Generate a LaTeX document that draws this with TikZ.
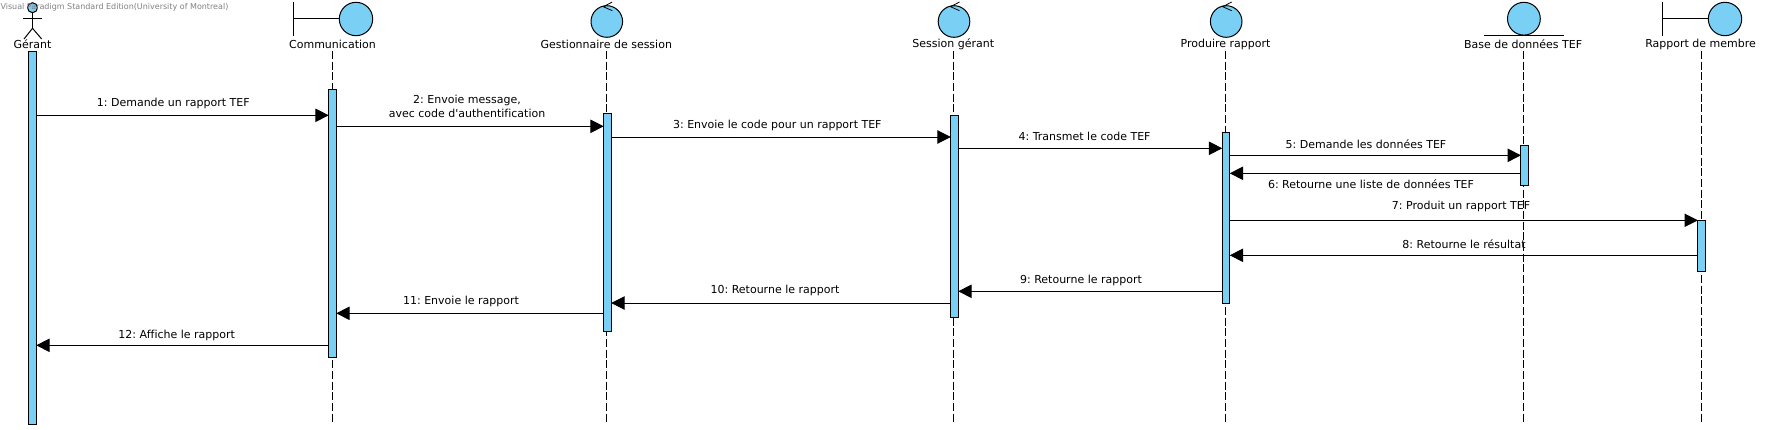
\documentclass[tikz,border=0pt]{standalone}
\usepackage{fontspec}
\usepackage{xcolor}
\usetikzlibrary{arrows.meta}
\newfontfamily\vpfont[Ligatures=NoCommon]{DejaVu Sans}
\definecolor{vpblue}{RGB}{122,207,245}

\begin{document}
\begin{tikzpicture}[x=0.75pt, y=-0.75pt, >={Triangle[length=10pt,width=10pt]},
  line width=0.75pt,
  icon/.style={draw=black, fill=vpblue},
  actbar/.style={draw=black, fill=vpblue, anchor=north, minimum width=5.6pt, inner sep=0pt, outer sep=0pt},
  lifeline/.style={dashed, dash pattern=on 6pt off 2pt},
  msg/.style={->},
  lifename/.style={font=\vpfont\frenchspacing\fontsize{8.25}{10}\selectfont},
  msgtext/.style={font=\vpfont\frenchspacing\fontsize{8.25}{11}\selectfont, align=center, inner sep=0pt}]
  \useasboundingbox (0,0) rectangle (1779,429);
  \draw[icon] (32.5,7.7) circle[radius=5];
  \draw (32.5,12.7) -- (32.5,28.3);
  \draw (23.3,18.3) -- (41.7,18.3);
  \draw (24,39) -- (32.5,28.3) -- (41.7,39);
  \draw (293.7,2.3) -- (293.7,35.7);
  \draw (293.7,18.7) -- (339.3,18.7);
  \draw[icon] (356,19) circle[radius=16.7];
  \draw[icon] (606.8,21.5) circle[radius=15.8];
  \draw[line width=0.6pt] (612.3,2) -- (603.3,6.7) -- (612.3,10.7);
  \draw[icon] (954,21.5) circle[radius=15.8];
  \draw[line width=0.6pt] (959.5,2) -- (950.5,6.7) -- (959.5,10.7);
  \draw[icon] (1226.2,21.5) circle[radius=15.8];
  \draw[line width=0.6pt] (1231.7,2) -- (1222.7,6.7) -- (1231.7,10.7);
  \draw[icon] (1523.9,18.7) circle[radius=16.4];
  \draw (1484,35) -- (1563.6,35);
  \draw (1662.6,2.3) -- (1662.6,35.7);
  \draw (1662.6,18.7) -- (1708.5,18.7);
  \draw[icon] (1725,19) circle[radius=16.7];
  \node[lifename] (gerantlbl) at (32.5,44) {Gérant};
  \node[lifename] (commlbl) at (332.5,44) {Communication};
  \node[lifename] (gestlbl) at (606.3,44) {Gestionnaire de session};
  \node[lifename] (sesslbl) at (953.3,44) {Session gérant};
  \node[lifename] (prodlbl) at (1225.5,44) {Produire rapport};
  \node[lifename] (baselbl) at (1523.1,44) {Base de données TEF};
  \node[lifename] (memblbl) at (1700.6,44) {Rapport de membre};
  \coordinate (commend) at (332.5,422);
  \coordinate (gestend) at (606.3,422);
  \coordinate (sessend) at (953.3,422);
  \coordinate (prodend) at (1225.5,422);
  \coordinate (baseend) at (1523.1,422);
  \coordinate (membend) at (1701.6,422);
  \draw[lifeline] (commlbl |- 0,51) -- (commend);
  \draw[lifeline] (gestlbl |- 0,51) -- (gestend);
  \draw[lifeline] (sesslbl |- 0,51) -- (sessend);
  \draw[lifeline] (prodlbl |- 0,51) -- (prodend);
  \draw[lifeline] (baselbl |- 0,51) -- (baseend);
  \draw[lifeline] (membend |- 0,51) -- (membend);
  \node[actbar, minimum height=279.75pt] (gerantbar) at (32.5,51) {};
  \node[actbar, minimum height=201.5pt] (commbar) at (332.5,89) {};
  \node[actbar, minimum height=163.5pt] (gestbar) at (607.5,113) {};
  \node[actbar, minimum height=151.65pt] (sessbar) at (954.5,115.3) {};
  \node[actbar, minimum height=128.25pt] (prodbar) at (1226,132.3) {};
  \node[actbar, minimum height=30pt] (basebar) at (1524.7,145.3) {};
  \node[actbar, minimum height=38.25pt] (membbar) at (1701.6,220.3) {};
  \draw[msg] (gerantbar.east |- 0,115.3) -- (commbar.west |- 0,115.3);
  \draw[msg] (commbar.east |- 0,126.3) -- (gestbar.west |- 0,126.3);
  \draw[msg] (gestbar.east |- 0,137) -- (sessbar.west |- 0,137);
  \draw[msg] (sessbar.east |- 0,148.3) -- (prodbar.west |- 0,148.3);
  \draw[msg] (prodbar.east |- 0,155.3) -- (basebar.west |- 0,155.3);
  \draw[msg] (basebar.west |- 0,173.3) -- (prodbar.east |- 0,173.3);
  \draw[msg] (prodbar.east |- 0,220.3) -- (membbar.west |- 0,220.3);
  \draw[msg] (membbar.west |- 0,255.3) -- (prodbar.east |- 0,255.3);
  \draw[msg] (prodbar.west |- 0,291.3) -- (sessbar.east |- 0,291.3);
  \draw[msg] (sessbar.west |- 0,303) -- (gestbar.east |- 0,303);
  \draw[msg] (gestbar.west |- 0,313.3) -- (commbar.east |- 0,313.3);
  \draw[msg] (commbar.west |- 0,345.3) -- (gerantbar.east |- 0,345.3);
  \node[msgtext] (msgone) at (173.3,103) {1: Demande un rapport TEF};
  \node[msgtext] (msgtwo) at (467,106.5) {2: Envoie message,\\avec code d'authentification};
  \node[msgtext] (msgthree) at (777.3,125.5) {3: Envoie le code pour un rapport TEF};
  \node[msgtext] (msgfour) at (1084.6,136.3) {4: Transmet le code TEF};
  \node[msgtext] (msgfive) at (1366,144) {5: Demande les données TEF};
  \node[msgtext] (msgsix) at (1371,183.8) {6: Retourne une liste de données TEF};
  \node[msgtext] (msgseven) at (1461,206.8) {7: Produit un rapport TEF};
  \node[msgtext] (msgeight) at (1464,243.8) {8: Retourne le résultat};
  \node[msgtext] (msgnine) at (1081,280) {9: Retourne le rapport};
  \node[msgtext] (msgten) at (775,290.5) {10: Retourne le rapport};
  \node[msgtext] (msgeleven) at (461,301.5) {11: Envoie le rapport};
  \node[msgtext] (msgtwelve) at (176.7,335.8) {12: Affiche le rapport};
  \node[right, gray, inner sep=0pt, font=\vpfont\fontsize{6}{7}\selectfont] (vplbl) at (0,7) {Visual Paradigm Standard Edition(University of Montreal)};
\end{tikzpicture}
\end{document}
